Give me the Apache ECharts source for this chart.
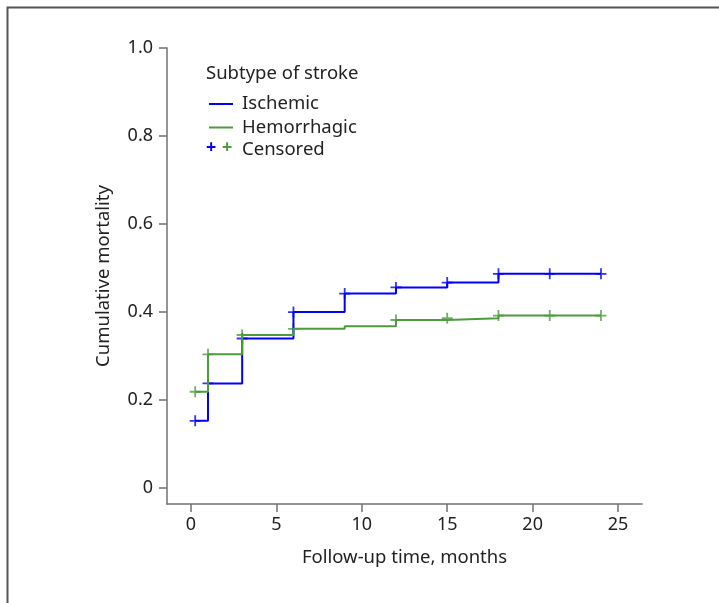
<!DOCTYPE html>
<html>
<head>
<meta charset="utf-8">
<script src="https://cdn.jsdelivr.net/npm/echarts@6/dist/echarts.min.js"></script>
<style>
  html, body { margin: 0; padding: 0; background: #fff; }
  #chart { width: 719px; height: 603px; }
</style>
</head>
<body>
<div id="chart"></div>
<script>
// step curves: time (months) and cumulative mortality
const ischemicTimes = [0.25, 1, 3, 6, 9, 12, 15, 18, 24];
const ischemicValues = [0.153, 0.238, 0.340, 0.400, 0.442, 0.456, 0.467, 0.487, 0.487];
const hemorrhagicTimes = [0.25, 1, 3, 6, 9, 12, 15, 18, 24];
const hemorrhagicValues = [0.219, 0.304, 0.348, 0.362, 0.368, 0.382, 0.386, 0.392, 0.392];

// censor marks (times)
const ischemicCensored = [0.25, 1, 3, 6, 9, 12, 15, 18, 21, 24];
const hemorrhagicCensored = [0.25, 1, 3, 6, 12, 15, 18, 21, 24];

const xTicks = [0, 5, 10, 15, 20, 25];
const yTicks = [0, 0.2, 0.4, 0.6, 0.8, 1.0];

const BLUE = '#0000ff';
const GREEN = '#4c9c3c';
const TEXT = '#222';
const FONT = 'Noto Sans';
const PLUS = 'path://M0,5L10,5M5,0L5,10';

function levelAt(times, values, t) {
  // value of the step curve at time t
  let v = values[0];
  for (let i = 0; i < times.length; i++) {
    if (times[i] <= t + 1e-9) v = values[i];
  }
  return v;
}

const chart = echarts.init(document.getElementById('chart'));

const axisCommon = {
  axisLine: { show: true, onZero: false, lineStyle: { color: '#707070', width: 1.5 } },
  axisTick: { show: true, length: 8, lineStyle: { color: '#707070', width: 1.5 } },
  splitLine: { show: false },
  nameTextStyle: { color: TEXT, fontSize: 18.5, fontFamily: FONT },
};

const legendFont = '18.5px "Noto Sans"';

chart.setOption({
  animation: false,
  grid: { left: 167, top: 48, right: 77, bottom: 99 },
  xAxis: Object.assign({}, axisCommon, {
    type: 'value',
    min: -1.4,
    max: 26.4,
    name: 'Follow-up time, months',
    nameLocation: 'middle',
    nameGap: 44,
    axisTick: Object.assign({}, axisCommon.axisTick, { customValues: xTicks }),
    axisLabel: {
      customValues: xTicks,
      color: TEXT, fontSize: 18, fontFamily: FONT, margin: 12
    }
  }),
  yAxis: Object.assign({}, axisCommon, {
    type: 'value',
    min: -0.036,
    max: 1.0,
    name: 'Cumulative mortality',
    nameLocation: 'middle',
    nameGap: 54,
    axisTick: Object.assign({}, axisCommon.axisTick, { customValues: yTicks }),
    axisLabel: {
      customValues: yTicks,
      color: TEXT, fontSize: 18, fontFamily: FONT, margin: 14,
      formatter: v => (v === 0 ? '0' : v.toFixed(1))
    }
  }),
  graphic: [
    // outer frame
    { type: 'rect', shape: { x: 7.5, y: 7.5, width: 800, height: 700 },
      style: { fill: 'none', stroke: '#555', lineWidth: 2 }, silent: true },
    // legend
    { type: 'text', left: 206, top: 64,
      style: { text: 'Subtype of stroke', fill: TEXT, font: legendFont } },
    { type: 'line', shape: { x1: 209, y1: 104, x2: 233, y2: 104 },
      style: { stroke: BLUE, lineWidth: 2 } },
    { type: 'text', left: 242, top: 94,
      style: { text: 'Ischemic', fill: TEXT, font: legendFont } },
    { type: 'line', shape: { x1: 209, y1: 127.5, x2: 233, y2: 127.5 },
      style: { stroke: GREEN, lineWidth: 2 } },
    { type: 'text', left: 242, top: 118,
      style: { text: 'Hemorrhagic', fill: TEXT, font: legendFont } },
    { type: 'text', left: 206, top: 139,
      style: { text: '+', fill: BLUE, font: 'bold 18px "Noto Sans"' } },
    { type: 'text', left: 222, top: 139,
      style: { text: '+', fill: GREEN, font: 'bold 18px "Noto Sans"' } },
    { type: 'text', left: 242, top: 140,
      style: { text: 'Censored', fill: TEXT, font: legendFont } }
  ],
  series: [
    {
      name: 'Ischemic', type: 'line', step: 'end', symbol: 'none',
      lineStyle: { color: BLUE, width: 2 },
      data: ischemicTimes.map((t, i) => [t, ischemicValues[i]])
    },
    {
      name: 'Hemorrhagic', type: 'line', step: 'end', symbol: 'none',
      lineStyle: { color: GREEN, width: 2 },
      data: hemorrhagicTimes.map((t, i) => [t, hemorrhagicValues[i]])
    },
    {
      name: 'Ischemic censored', type: 'scatter', symbol: PLUS, symbolSize: 11,
      itemStyle: { color: 'none', borderColor: BLUE, borderWidth: 1.8 },
      data: ischemicCensored.map(t => [t, levelAt(ischemicTimes, ischemicValues, t)])
    },
    {
      name: 'Hemorrhagic censored', type: 'scatter', symbol: PLUS, symbolSize: 11,
      itemStyle: { color: 'none', borderColor: GREEN, borderWidth: 1.8 },
      data: hemorrhagicCensored.map(t => [t, levelAt(hemorrhagicTimes, hemorrhagicValues, t)])
    }
  ]
});
</script>
</body>
</html>
